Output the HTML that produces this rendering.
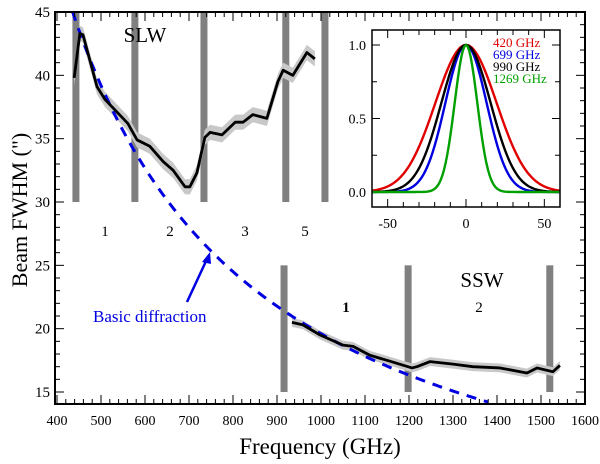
<!DOCTYPE html>
<html><head><meta charset="utf-8"><style>
body{margin:0;background:#fff}
svg{display:block;font-family:"Liberation Serif",serif}
</style></head><body>
<svg id="c" width="600" height="464" viewBox="0 0 600 464">
<g id="main"></g>
<g id="inset"></g>
</svg>
<script>
// Main chart data
const slwFreq=[439,452,459,491,509,561,582,611,641,664,691,702,718,736,748,775,805,823,845,877,902,914,936,968,986];
const slwFwhm=[39.8,43.3,43.2,39.1,38.1,36.2,34.9,34.4,33.2,32.5,31.2,31.2,32.3,35.1,35.5,35.3,36.3,36.3,36.9,36.6,39.5,40.4,40.0,41.8,41.3];
const sswFreq=[934,959,998,1050,1073,1111,1150,1207,1218,1248,1300,1345,1407,1468,1491,1527,1543];
const sswFwhm=[20.5,20.3,19.5,18.7,18.6,17.9,17.5,16.9,17.0,17.4,17.2,17.0,16.9,16.5,16.9,16.6,17.1];
const slwBars=[443,577,734,920,1009];
const sswBars=[916,1198,1520];
const diffConst=19600;
const xTicks=[400,500,600,700,800,900,1000,1100,1200,1300,1400,1500,1600];
const yTicks=[15,20,25,30,35,40,45];
// Inset data
const insetLabels=["420 GHz","699 GHz","990 GHz","1269 GHz"];
const insetColors=["#e00000","#0000e0","#000000","#00a000"];
const insetFwhm=[46,31,37,17];
const insetXTicks=[-50,0,50];
const insetYTicks=[0.0,0.5,1.0];

const NS="http://www.w3.org/2000/svg";
function mk(parent,tag,attrs,text){const e=document.createElementNS(NS,tag);for(const k in attrs)e.setAttribute(k,attrs[k]);if(text!==undefined)e.textContent=text;parent.appendChild(e);return e;}
const X=f=>57+(f-400)*528/1200;
const Y=v=>12+(45-v)*12.667;
const G=document.getElementById('main');
const L=55,R=585,T=12,B=404;

slwBars.forEach((f,i)=>{const r=mk(G,'rect',{x:X(f)-3.5,y:T,width:7,height:Y(30)-T,fill:'#808080'});

});
sswBars.forEach((f,i)=>{const r=mk(G,'rect',{x:X(f)-3.5,y:Y(25),width:7,height:Y(15)-Y(25),fill:'#808080'});

});

function band(fr,vs,e,name){let up=fr.map((f,i)=>X(f)+','+Y(vs[i]+e)),dn=fr.map((f,i)=>X(f)+','+Y(vs[i]-e)).reverse();
const p=mk(G,'polygon',{points:up.concat(dn).join(' '),fill:'#c8c8c8'});

}
band(slwFreq,slwFwhm,0.6,'slw-error-band');
band(sswFreq,sswFwhm,0.35,'ssw-error-band');

let dp=[];for(let f=420;f<=1380;f+=5){const v=diffConst/f;if(v<=45.3)dp.push(X(f)+','+Y(v));}
const dl=mk(G,'polyline',{points:dp.join(' '),fill:'none',stroke:'#0000e0','stroke-width':3,'stroke-dasharray':'10,8'});



function line(fr,vs,name){const p=mk(G,'polyline',{points:fr.map((f,i)=>X(f)+','+Y(vs[i])).join(' '),fill:'none',stroke:'#000','stroke-width':2.8,'stroke-linejoin':'round'});

}
line(slwFreq,slwFwhm,'slw-curve');
line(sswFreq,sswFwhm,'ssw-curve');

const fr=mk(G,'rect',{x:L,y:T,width:R-L,height:B-T,fill:'none',stroke:'#000','stroke-width':2});


for(let f=400;f<=1600;f+=20){const maj=f%100===0,len=maj?9:5;
mk(G,'line',{x1:X(f),x2:X(f),y1:B,y2:B-len,stroke:'#000','stroke-width':1});
mk(G,'line',{x1:X(f),x2:X(f),y1:T,y2:T+len,stroke:'#000','stroke-width':1});}
for(let v=15;v<=45;v++){const maj=v%5===0,len=maj?9:5;
mk(G,'line',{x1:L,x2:L+len,y1:Y(v),y2:Y(v),stroke:'#000','stroke-width':1});
mk(G,'line',{x1:R,x2:R-len,y1:Y(v),y2:Y(v),stroke:'#000','stroke-width':1});}
xTicks.forEach(f=>{const t=mk(G,'text',{x:X(f),y:425,'font-size':14,'text-anchor':'middle'},f);

});
yTicks.forEach(v=>{const t=mk(G,'text',{x:50,y:Y(v)+5,'font-size':15,'text-anchor':'end'},v);

});
</script>
<svg style="position:absolute;left:0;top:0" width="600" height="464">
<text x="320" y="454" font-size="23" text-anchor="middle" font-family="Liberation Serif, serif">Frequency (GHz)</text>
<text transform="translate(27,210) rotate(-90)" font-size="22" text-anchor="middle" font-family="Liberation Serif, serif">Beam FWHM (")</text>
<text x="145" y="42" font-size="21" text-anchor="middle" font-family="Liberation Serif, serif">SLW</text>
<g font-size="15" text-anchor="middle" font-family="Liberation Serif, serif">
<text x="105" y="236">1</text>
<text x="170" y="236">2</text>
<text x="245" y="236">3</text>
<text x="305" y="236">5</text>
<text x="346" y="312" font-weight="bold">1</text>
<text x="479" y="312">2</text>
</g>
<text x="482" y="287" font-size="21" text-anchor="middle" font-family="Liberation Serif, serif">SSW</text>
<text x="93" y="322" font-size="17" fill="#0000e0" font-family="Liberation Serif, serif">Basic diffraction</text>
<line x1="187" y1="302" x2="207" y2="259" stroke="#0000e0" stroke-width="2.5"/>
<polygon points="210,252 202,262 211,264" fill="#0000e0"/>
</svg>
<script>
(function(){
const S=document.getElementById('inset');
const IX=x=>372+(x+60)*188/120;
const IY=v=>192-v*147;
const IL=372,IR=560,IT=30,IB=207;
mk(S,'rect',{x:IL,y:IT,width:IR-IL,height:IB-IT,fill:'#fff'});
for(let x=-60;x<=60;x+=10){const len=x%50===0?8:5;
mk(S,'line',{x1:IX(x),x2:IX(x),y1:IB,y2:IB-len,stroke:'#000'});
mk(S,'line',{x1:IX(x),x2:IX(x),y1:IT,y2:IT+len,stroke:'#000'});}
for(let v=0;v<=1.001;v+=0.25){const len=Math.abs(v*2-Math.round(v*2))<0.01?8:5;
mk(S,'line',{x1:IL,x2:IL+len,y1:IY(v),y2:IY(v),stroke:'#000'});
mk(S,'line',{x1:IR,x2:IR-len,y1:IY(v),y2:IY(v),stroke:'#000'});}
insetFwhm.forEach((w,i)=>{const s=w/2.3548;let pts=[];
for(let x=-60;x<=60;x+=1){pts.push(IX(x)+','+IY(Math.exp(-x*x/(2*s*s))));}
const p=mk(S,'polyline',{points:pts.join(' '),fill:'none',stroke:insetColors[i],'stroke-width':2.4});


const t=mk(S,'text',{x:493,y:47+i*12,'font-size':13,fill:insetColors[i]},insetLabels[i]);

});
const f=mk(S,'rect',{x:IL,y:IT,width:IR-IL,height:IB-IT,fill:'none',stroke:'#000','stroke-width':1.5});


insetXTicks.forEach(x=>{const t=mk(S,'text',{x:IX(x),y:228,'font-size':14,'text-anchor':'middle'},x);

});
insetYTicks.forEach(v=>{const t=mk(S,'text',{x:366,y:IY(v)+5,'font-size':14,'text-anchor':'end'},v.toFixed(1));

});
})();
</script>
</body></html>
